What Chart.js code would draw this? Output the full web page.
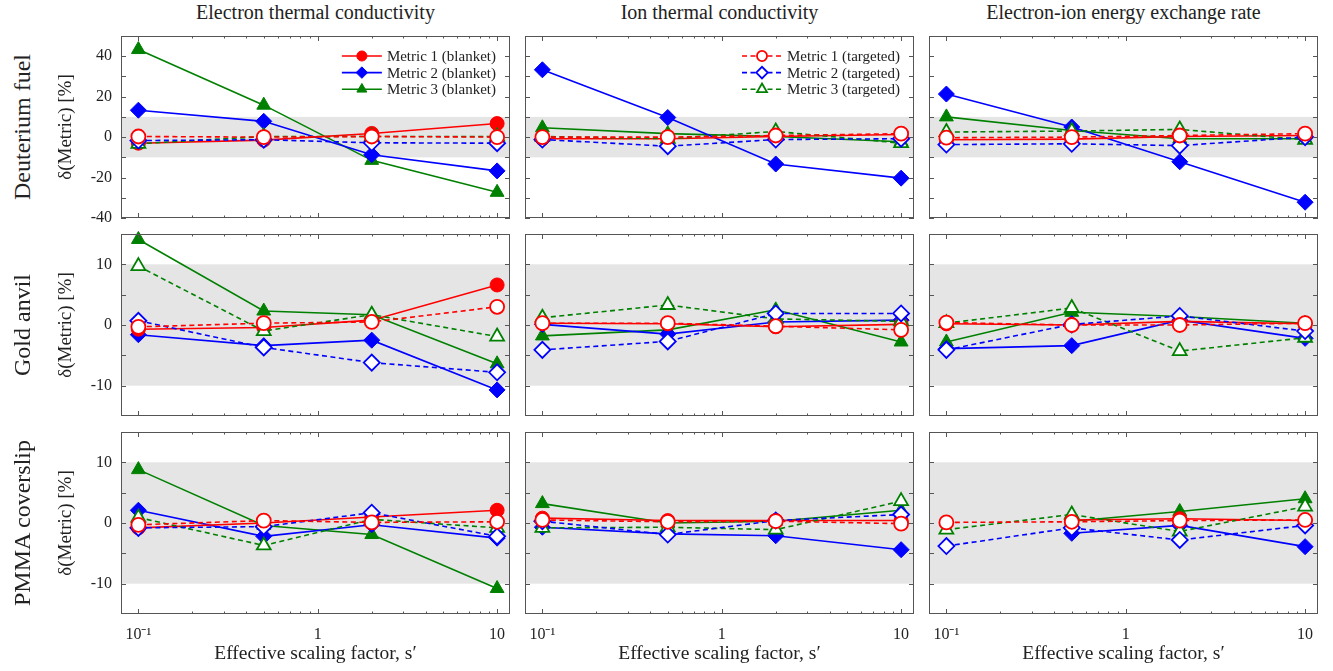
<!DOCTYPE html>
<html>
<head>
<meta charset="utf-8">
<title>Sensitivity of metrics to scaling factor</title>
<style>
  body { margin: 0; background: #fff; width: 1333px; height: 671px; position: relative; overflow: hidden;
         font-family: "Liberation Serif", serif; color: #222; }
  canvas { position: absolute; }
  .coltitle { position: absolute; font-size: 20px; white-space: nowrap; transform: translate(-50%, -50%); }
  .rowlabel { position: absolute; font-size: 24px; white-space: nowrap; transform: translate(-50%, -50%) rotate(-90deg); }
</style>
<script src="https://cdn.jsdelivr.net/npm/chart.js@4"></script>
</head>
<body>
<script>
// x positions shared by every panel
const xValues = [0.1, 0.5, 2, 10];
const xTickValues = [0.1, 1, 10];
const xTickLabels = ['10\u207B\u00B9', '1', '10'];
const xMinorTicks = [0.2, 0.3, 0.4, 0.5, 0.6, 0.7, 0.8, 0.9, 2, 3, 4, 5, 6, 7, 8, 9];

const columnTitles = ['Electron thermal conductivity', 'Ion thermal conductivity', 'Electron-ion energy exchange rate'];
const rowLabels = ['Deuterium fuel', 'Gold anvil', 'PMMA coverslip'];
const seriesNames = ['Metric 1 (blanket)', 'Metric 2 (blanket)', 'Metric 3 (blanket)',
                     'Metric 1 (targeted)', 'Metric 2 (targeted)', 'Metric 3 (targeted)'];

// y axis per row
const rowYMin = [-40, -15, -15];
const rowYMax = [50, 15, 15];
const rowYLabelTicks = [[-40, -20, 0, 20, 40], [-10, 0, 10], [-10, 0, 10]];
const rowYAllTicks = [[-40, -30, -20, -10, 0, 10, 20, 30, 40], [-10, -5, 0, 5, 10], [-10, -5, 0, 5, 10]];
const bandLow = -10, bandHigh = 10;

// values per panel, rows: M1 blanket, M2 blanket, M3 blanket, M1 targeted, M2 targeted, M3 targeted
const deuteriumElectron = [
  [-3, -1.5, 1.8, 6.7],
  [13.3, 7.8, -8.7, -16.7],
  [43.3, 15.8, -11.5, -27.3],
  [0.3, 0, 0.3, 0],
  [-1.7, -1.3, -2.8, -3],
  [-3.3, 0.3, 0.3, 0.3]
];
const deuteriumIon = [
  [-0.8, -0.8, 0.3, 1.3],
  [33.3, 9.7, -13.3, -20.3],
  [4.6, 1.7, 0.3, -2.3],
  [0, 0, 0.8, 1.7],
  [-1.2, -4.5, -1.2, -0.8],
  [0.3, -0.8, 2.8, -3]
];
const deuteriumExchange = [
  [-1.3, -1, 0.3, 0.8],
  [21.3, 5, -12.2, -32.2],
  [10, 3.3, -0.8, -0.8],
  [-0.3, 0, 0.8, 1.7],
  [-3.7, -3.3, -4.2, 0],
  [2.5, 3, 3.8, -1.3]
];
const goldElectron = [
  [-0.7, -0.4, 0.8, 6.6],
  [-1.6, -3.4, -2.5, -10.7],
  [14.1, 2.3, 1.7, -6.4],
  [-0.3, 0.3, 0.5, 3.0],
  [0.7, -3.7, -6.2, -7.8],
  [9.7, -1.0, 1.7, -1.9]
];
const goldIon = [
  [0.3, 0.2, -0.3, 0.1],
  [0.1, -1.5, 0.5, 0.8],
  [-1.8, -0.8, 2.5, -2.8],
  [0.3, 0.3, -0.2, -0.8],
  [-4.1, -2.7, 1.9, 1.9],
  [1.2, 3.3, 1.0, 0.6]
];
const goldExchange = [
  [0.2, 0, 0.6, 0.2],
  [-3.9, -3.4, 0.8, -2.2],
  [-2.8, 2.1, 1.4, 0.3],
  [0.4, 0, 0, 0.3],
  [-4.1, 0.1, 1.5, -1.0],
  [0.3, 2.8, -4.3, -2.1]
];
const pmmaElectron = [
  [-0.8, 0, 1.0, 2.1],
  [2.1, -2.2, -0.3, -2.5],
  [8.8, -0.4, -1.9, -10.8],
  [-0.3, 0.4, 0.1, 0.2],
  [-0.8, -0.6, 1.7, -2.2],
  [0.9, -3.7, 0.6, -0.8]
];
const pmmaIon = [
  [0.8, 0.4, 0.4, 0.4],
  [-0.7, -1.8, -2.1, -4.4],
  [3.2, 0, 0.3, 2.1],
  [0.5, 0.2, 0.3, -0.1],
  [0.3, -1.9, 0.4, 1.4],
  [-0.8, -0.7, -1.1, 3.6]
];
const pmmaExchange = [
  [null, 0.5, 0.7, 0.4],
  [null, -1.7, -0.4, -3.9],
  [null, 0.3, 1.9, 4.0],
  [0.1, 0.2, 0.4, 0.5],
  [-3.8, -0.8, -2.8, -0.4],
  [-1.1, 1.4, -1.4, 2.7]
];

const panels = [
  [deuteriumElectron, deuteriumIon, deuteriumExchange],
  [goldElectron, goldIon, goldExchange],
  [pmmaElectron, pmmaIon, pmmaExchange]
];
const legendItems = { '0,0': [0, 1, 2], '0,1': [3, 4, 5] };

// layout / style
const colLeft = [121, 525, 929];
const rowTop = [36, 234, 432];
const panelW = 389, panelH = 182;
const FONT = '"Liberation Serif", serif';
const colors = ['#ff0000', '#0000ff', '#008000'];
const shapes = ['circle', 'rectRot', 'triangle'];
const radii = [7, 8, 8];

const framePlugin = {
  id: 'frame',
  beforeDatasetsDraw(chart) {
    const { ctx, chartArea: a, scales: { y } } = chart;
    const t = y.getPixelForValue(bandHigh), b = y.getPixelForValue(bandLow);
    ctx.save();
    ctx.fillStyle = '#e5e5e5';
    ctx.fillRect(a.left, t, a.right - a.left, b - t);
    ctx.restore();
  },
  afterDatasetsDraw(chart, args, opts) {
    const { ctx, chartArea: a, scales: { x, y } } = chart;
    ctx.save();
    ctx.strokeStyle = '#555';
    ctx.lineWidth = 1;
    ctx.beginPath();
    const px = v => Math.round(v) + 0.5;
    xTickValues.forEach(v => {
      const p = px(x.getPixelForValue(v));
      ctx.moveTo(p, a.bottom); ctx.lineTo(p, a.bottom - 5);
      ctx.moveTo(p, a.top); ctx.lineTo(p, a.top + 5);
    });
    xMinorTicks.forEach(v => {
      const p = px(x.getPixelForValue(v));
      ctx.moveTo(p, a.bottom); ctx.lineTo(p, a.bottom - 2.5);
      ctx.moveTo(p, a.top); ctx.lineTo(p, a.top + 2.5);
    });
    rowYAllTicks[opts.row].forEach(v => {
      const p = px(y.getPixelForValue(v));
      ctx.moveTo(a.left, p); ctx.lineTo(a.left + 5, p);
      ctx.moveTo(a.right, p); ctx.lineTo(a.right - 5, p);
    });
    ctx.stroke();
    ctx.strokeRect(a.left + 0.5, a.top + 0.5, a.right - a.left - 1, a.bottom - a.top - 1);
    ctx.restore();
  },
  afterDraw(chart, args, opts) {
    const items = opts.items;
    if (!items) return;
    const { ctx, chartArea: a } = chart;
    ctx.save();
    ctx.font = '15px ' + FONT;
    const w = Math.max(...items.map(i => ctx.measureText(chart.data.datasets[i].label).width));
    const textX = a.right - 14 - w;
    items.forEach((di, j) => {
      const ds = chart.data.datasets[di];
      const yy = a.top + 20 + j * 16.6;
      ctx.strokeStyle = ds.borderColor;
      ctx.lineWidth = ds.borderWidth;
      ctx.setLineDash(ds.borderDash);
      ctx.beginPath(); ctx.moveTo(textX - 45, yy); ctx.lineTo(textX - 5, yy); ctx.stroke();
      ctx.setLineDash([]);
      ctx.fillStyle = ds.pointBackgroundColor;
      ctx.strokeStyle = ds.pointBorderColor;
      ctx.lineWidth = ds.pointBorderWidth;
      Chart.helpers.drawPoint(ctx, { pointStyle: ds.pointStyle, radius: ds.pointRadius * 0.72,
                                      borderWidth: ds.pointBorderWidth, rotation: 0 }, textX - 25, yy);
      ctx.fillStyle = '#222';
      ctx.textBaseline = 'middle';
      ctx.fillText(ds.label, textX, yy + 1);
    });
    ctx.restore();
  }
};

function makePanel(r, c) {
  const leftM = c === 0 ? 75 : 4;
  const botM = r === 2 ? 55 : 12;
  const topM = 10, rightM = 4;
  const cv = document.createElement('canvas');
  cv.width = panelW + leftM + rightM;
  cv.height = panelH + topM + botM;
  cv.style.left = (colLeft[c] - leftM) + 'px';
  cv.style.top = (rowTop[r] - topM) + 'px';
  document.body.appendChild(cv);

  const datasets = panels[r][c].map((vals, k) => {
    const col = colors[k % 3];
    const open = k >= 3;
    return {
      label: seriesNames[k],
      data: xValues.map((x, i) => ({ x: x, y: vals[i] })),
      borderColor: col,
      backgroundColor: col,
      borderWidth: 1.6,
      borderDash: open ? [5, 3.5] : [],
      pointStyle: shapes[k % 3],
      pointRadius: radii[k % 3],
      pointBackgroundColor: open ? '#ffffff' : col,
      pointBorderColor: col,
      pointBorderWidth: open ? 1.8 : 1,
      order: open ? 1 : 2,
      clip: false,
      tension: 0
    };
  });

  new Chart(cv.getContext('2d'), {
    type: 'line',
    data: { datasets: datasets },
    options: {
      responsive: false,
      animation: false,
      devicePixelRatio: 1,
      layout: { autoPadding: false,
                padding: { left: 0, right: rightM, top: topM, bottom: r === 2 ? 0 : botM } },
      plugins: {
        legend: { display: false },
        tooltip: { enabled: false },
        frame: { row: r, items: legendItems[r + ',' + c] }
      },
      scales: {
        x: {
          type: 'logarithmic', min: 0.08, max: 11.8, display: r === 2,
          grid: { display: false, drawTicks: false }, border: { display: false },
          ticks: { color: '#222', font: { family: FONT, size: 16 }, padding: 11, maxRotation: 0, autoSkip: false,
                   callback: (v, i) => xTickLabels[i] },
          afterBuildTicks: s => { s.ticks = xTickValues.map(v => ({ value: v })); },
          afterFit: s => { s.height = r === 2 ? 55 : 0; s.paddingLeft = 0; s.paddingRight = 0; },
          title: { display: true, text: 'Effective scaling factor, s\u2032', color: '#222',
                   font: { family: FONT, size: 19.5 }, padding: { top: 0, bottom: 3 } }
        },
        y: {
          type: 'linear', min: rowYMin[r], max: rowYMax[r], display: true,
          grid: { display: false, drawTicks: false }, border: { display: false },
          ticks: { display: c === 0, color: '#222', font: { family: FONT, size: 16 }, padding: 9 },
          afterBuildTicks: s => { s.ticks = rowYLabelTicks[r].map(v => ({ value: v })); },
          afterFit: s => { s.width = leftM; s.paddingTop = 0; s.paddingBottom = 0; },
          title: { display: c === 0, text: '\u03B4(Metric) [%]', color: '#222',
                   font: { family: FONT, size: 19 }, padding: { top: 9, bottom: 0 } }
        }
      }
    },
    plugins: [framePlugin]
  });
}

for (let r = 0; r < 3; r++) {
  for (let c = 0; c < 3; c++) makePanel(r, c);
}

columnTitles.forEach((t, c) => {
  const d = document.createElement('div');
  d.className = 'coltitle';
  d.textContent = t;
  d.style.left = (colLeft[c] + panelW / 2) + 'px';
  d.style.top = '12px';
  document.body.appendChild(d);
});
rowLabels.forEach((t, r) => {
  const d = document.createElement('div');
  d.className = 'rowlabel';
  d.textContent = t;
  d.style.left = '22px';
  d.style.top = (rowTop[r] + panelH / 2) + 'px';
  document.body.appendChild(d);
});
</script>
</body>
</html>
